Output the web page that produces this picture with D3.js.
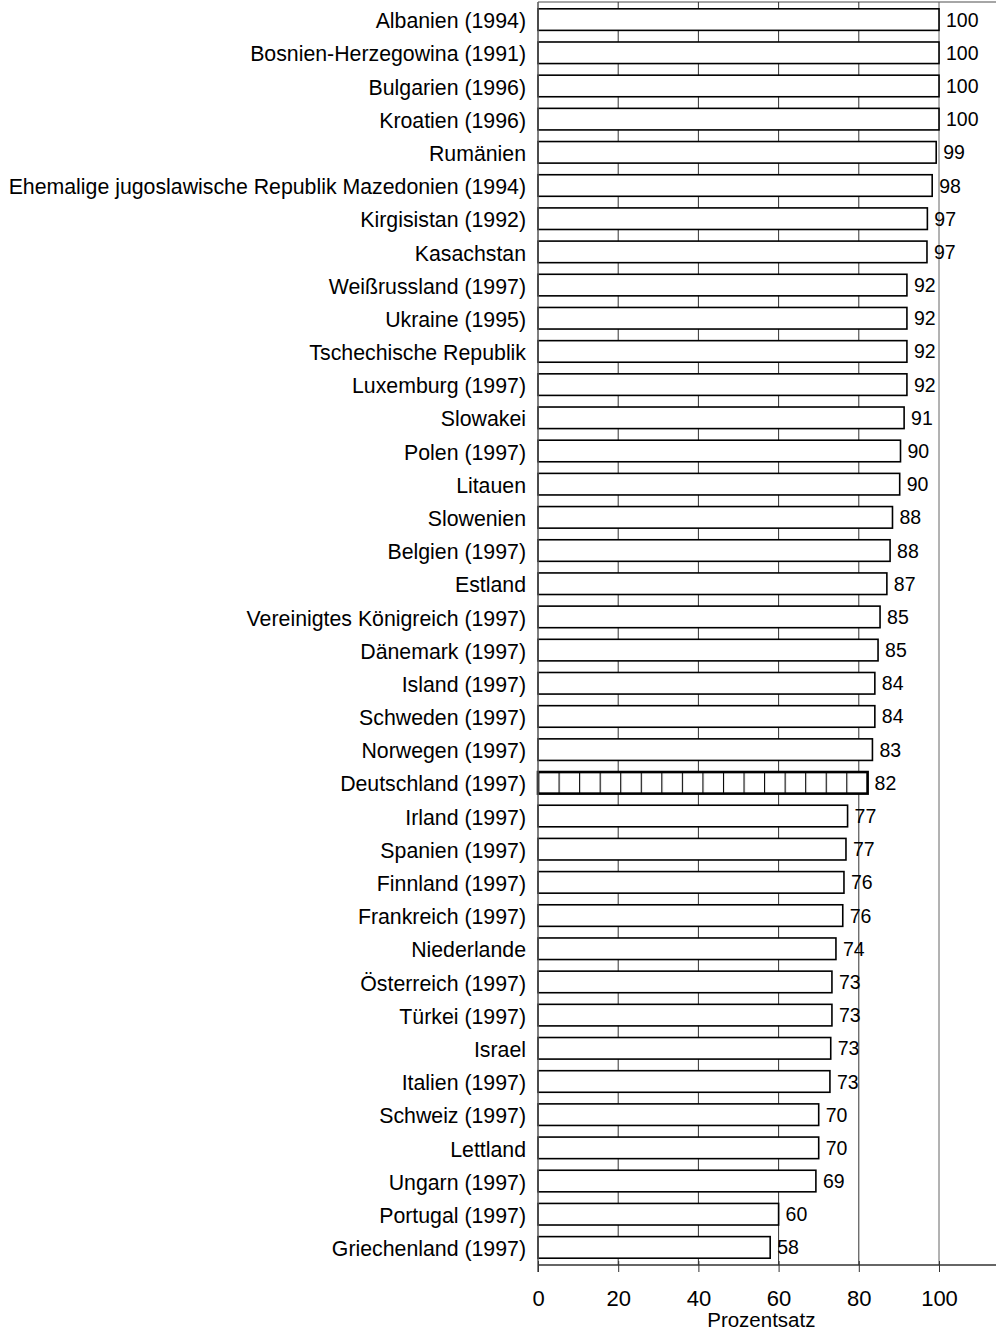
<!DOCTYPE html>
<html>
<head>
<meta charset="utf-8">
<script src="https://cdn.jsdelivr.net/npm/d3@7"></script>
<style>
  body { margin: 0; background: #fff; }
  svg { display: block; font-family: "Liberation Sans", Arial, sans-serif; }
</style>
</head>
<body>
<div id="chart"></div>
<script>
const countries = [
  "Albanien (1994)", "Bosnien-Herzegowina (1991)", "Bulgarien (1996)", "Kroatien (1996)",
  "Rumänien", "Ehemalige jugoslawische Republik Mazedonien (1994)", "Kirgisistan (1992)",
  "Kasachstan", "Weißrussland (1997)", "Ukraine (1995)", "Tschechische Republik",
  "Luxemburg (1997)", "Slowakei", "Polen (1997)", "Litauen", "Slowenien", "Belgien (1997)",
  "Estland", "Vereinigtes Königreich (1997)", "Dänemark (1997)", "Island (1997)",
  "Schweden (1997)", "Norwegen (1997)", "Deutschland (1997)", "Irland (1997)",
  "Spanien (1997)", "Finnland (1997)", "Frankreich (1997)", "Niederlande",
  "Österreich (1997)", "Türkei (1997)", "Israel", "Italien  (1997)", "Schweiz (1997)",
  "Lettland", "Ungarn (1997)", "Portugal (1997)", "Griechenland (1997)"
];
const values = [
  100, 100, 100, 100, 99.3, 98.3, 97.1, 97, 92, 92, 92, 92, 91.3, 90.4, 90.2, 88.4,
  87.8, 87, 85.3, 84.8, 84, 84, 83.4, 82.2, 77.2, 76.8, 76.3, 76, 74.3, 73.3, 73.3,
  73, 72.8, 70, 70, 69.3, 60, 57.9
];
const highlight = "Deutschland (1997)";
const xTicks = [0, 20, 40, 60, 80, 100];
const xTitle = "Prozentsatz";

const W = 996, H = 1330;
const plotLeft = 538, plotRight = 996, plotTop = 3, plotBottom = 1264;

const svg = d3.select("#chart").append("svg")
  .attr("width", W).attr("height", H);

const x = d3.scaleLinear().domain([0, 100]).range([plotLeft, 939]);
const y = d3.scaleBand().domain(countries).range([plotTop, plotBottom])
  .paddingInner(0.35).paddingOuter(0.175);

// cell pattern for Deutschland
const cellW = x(5.125) - x(0);
const defs = svg.append("defs");
const pat = defs.append("pattern")
  .attr("id", "cells")
  .attr("patternUnits", "userSpaceOnUse")
  .attr("x", plotLeft).attr("y", 0)
  .attr("width", cellW).attr("height", 40);
pat.append("rect").attr("width", cellW).attr("height", 40).attr("fill", "#fff");
pat.append("line").attr("x1", 0.5).attr("x2", 0.5).attr("y1", 0).attr("y2", 40)
  .attr("stroke", "#000").attr("stroke-width", 1.2);

// frame top
svg.append("line")
  .attr("x1", plotLeft).attr("x2", plotRight).attr("y1", 2).attr("y2", 2)
  .attr("stroke", "#888").attr("stroke-width", 1.5);

// vertical gridlines
svg.append("g")
  .selectAll("line")
  .data(xTicks.filter(d => d > 0))
  .join("line")
  .attr("x1", d => x(d)).attr("x2", d => x(d))
  .attr("y1", 2).attr("y2", plotBottom + 1)
  .attr("stroke", d => d === 100 ? "#666" : "#333")
  .attr("stroke-width", 1);

// bars
svg.append("g")
  .selectAll("rect")
  .data(countries)
  .join("rect")
  .attr("x", x(0))
  .attr("y", d => y(d))
  .attr("width", (d, i) => x(values[i]) - x(0))
  .attr("height", y.bandwidth())
  .attr("fill", d => d === highlight ? "url(#cells)" : "#fff")
  .attr("stroke", "#000")
  .attr("stroke-width", d => d === highlight ? 2.6 : 1.6);

// category labels
svg.append("g")
  .selectAll("text")
  .data(countries)
  .join("text")
  .attr("x", 526)
  .attr("y", d => y(d) + y.bandwidth() / 2 + 1)
  .attr("dy", "0.36em")
  .attr("text-anchor", "end")
  .attr("font-size", 21.3)
  .attr("fill", "#000")
  .text(d => d);

// value labels
svg.append("g")
  .selectAll("text")
  .data(countries)
  .join("text")
  .attr("x", (d, i) => x(values[i]) + 7)
  .attr("y", d => y(d) + y.bandwidth() / 2)
  .attr("dy", "0.36em")
  .attr("font-size", 19.5)
  .attr("fill", "#000")
  .text((d, i) => Math.round(values[i]));

// left axis line
svg.append("line")
  .attr("x1", plotLeft).attr("x2", plotLeft).attr("y1", 2).attr("y2", plotBottom + 8)
  .attr("stroke", "#555").attr("stroke-width", 1.5);

// bottom axis
const axisY = plotBottom + 1;
svg.append("line")
  .attr("x1", plotLeft).attr("x2", plotRight).attr("y1", axisY).attr("y2", axisY)
  .attr("stroke", "#333").attr("stroke-width", 1.5);

const xAxis = svg.append("g")
  .attr("transform", `translate(0,${axisY})`)
  .call(d3.axisBottom(x).tickValues(xTicks).tickSize(7).tickPadding(18).tickSizeOuter(0));
xAxis.select(".domain").remove();
xAxis.selectAll(".tick line").attr("stroke", "#333").attr("y1", -4);
xAxis.selectAll(".tick text")
  .attr("font-family", "Liberation Sans, Arial, sans-serif")
  .attr("font-size", 22).attr("fill", "#000");

svg.append("text")
  .attr("x", x(55.7))
  .attr("y", 1327)
  .attr("text-anchor", "middle")
  .attr("font-size", 20.5)
  .attr("fill", "#000")
  .text(xTitle);
</script>
</body>
</html>
